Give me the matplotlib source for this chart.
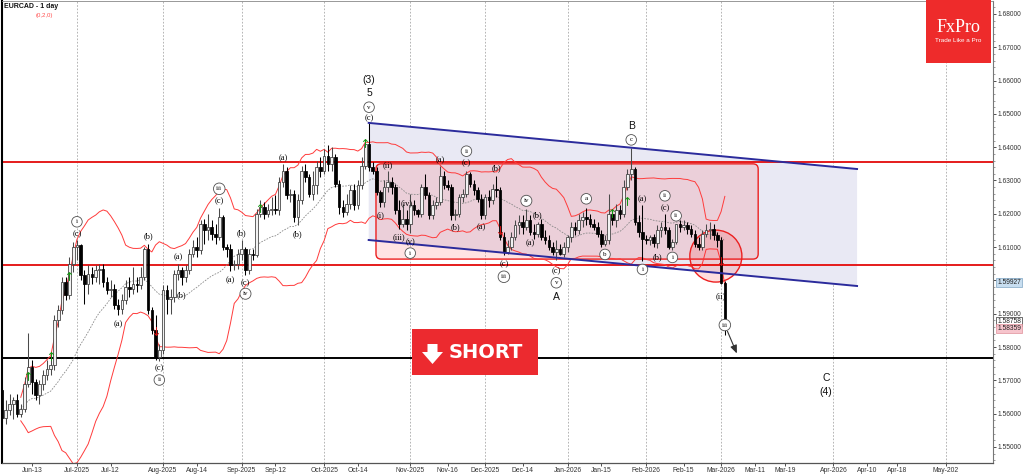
import numpy as np
import pandas as pd
import matplotlib
matplotlib.use("Agg")
import matplotlib.pyplot as plt
import matplotlib.transforms as mtransforms
from matplotlib.patches import Polygon, Ellipse, FancyBboxPatch, Rectangle
from matplotlib.ticker import MultipleLocator, FormatStrFormatter

plt.rcParams["font.family"] = ["Liberation Sans", "DejaVu Sans"]

# ---------------- data (EURCAD daily) ----------------
opens = [
    1.5672, 1.5587, 1.5610, 1.5630, 1.5640, 1.5600, 1.5615, 1.5690, 1.5740, 1.5695,
    1.5655, 1.5690, 1.5715, 1.5735, 1.5745, 1.5880, 1.5910, 1.5995, 1.5955, 1.6050,
    1.6100, 1.6105, 1.6017, 1.5990, 1.6020, 1.6010, 1.6030, 1.6035, 1.5995, 1.5970,
    1.5975, 1.5925, 1.5915, 1.5940, 1.5980, 1.5975, 1.5990, 1.5985, 1.6010, 1.6095,
    1.5910, 1.5850, 1.5770, 1.5790, 1.5970, 1.5945, 1.5950, 1.6020, 1.6030, 1.6010,
    1.6030, 1.6080, 1.6100, 1.6090, 1.6170, 1.6150, 1.6160, 1.6140, 1.6130, 1.6190,
    1.6100, 1.6095, 1.6045, 1.6050, 1.6080, 1.6095, 1.6030, 1.6080, 1.6075, 1.6200,
    1.6220, 1.6200, 1.6210, 1.6215, 1.6210, 1.6295, 1.6330, 1.6255, 1.6260, 1.6190,
    1.6240, 1.6330, 1.6310, 1.6260, 1.6285, 1.6340, 1.6330, 1.6375, 1.6350, 1.6370,
    1.6290, 1.6220, 1.6205, 1.6230, 1.6270, 1.6225, 1.6285, 1.6345, 1.6410, 1.6340,
    1.6330, 1.6265, 1.6235, 1.6280, 1.6295, 1.6280, 1.6210, 1.6170, 1.6185, 1.6170,
    1.6225, 1.6210, 1.6200, 1.6280, 1.6255, 1.6195, 1.6225, 1.6235, 1.6315, 1.6285,
    1.6280, 1.6195, 1.6200, 1.6250, 1.6260, 1.6320, 1.6290, 1.6270, 1.6245, 1.6195,
    1.6250, 1.6240, 1.6275, 1.6270, 1.6130, 1.6085, 1.6100, 1.6130, 1.6165, 1.6175,
    1.6160, 1.6180, 1.6145, 1.6140, 1.6170, 1.6130, 1.6120, 1.6100, 1.6085, 1.6095,
    1.6080, 1.6100, 1.6130, 1.6160, 1.6150, 1.6180, 1.6190, 1.6185, 1.6170, 1.6160,
    1.6140, 1.6110, 1.6120, 1.6200, 1.6180, 1.6210, 1.6200, 1.6280, 1.6320, 1.6335,
    1.6175, 1.6145, 1.6125, 1.6120, 1.6130, 1.6112, 1.6150, 1.6160, 1.6150, 1.6100,
    1.6115, 1.6170, 1.6160, 1.6165, 1.6155, 1.6140, 1.6110, 1.6100, 1.6140, 1.6150,
    1.6155, 1.6135, 1.6120, 1.5993,
]
highs = [
    1.5680, 1.5640, 1.5660, 1.5650, 1.5660, 1.5630, 1.5710, 1.5842, 1.5760, 1.5705,
    1.5700, 1.5730, 1.5760, 1.5780, 1.5895, 1.5925, 1.6010, 1.6010, 1.6070, 1.6115,
    1.6122, 1.6110, 1.6030, 1.6045, 1.6040, 1.6045, 1.6050, 1.6050, 1.6010, 1.6000,
    1.5990, 1.5945, 1.5960, 1.6000, 1.6010, 1.6040, 1.6010, 1.6040, 1.6100, 1.6108,
    1.5920, 1.5895, 1.5810, 1.5985, 1.5985, 1.5975, 1.6030, 1.6050, 1.6040, 1.6045,
    1.6095, 1.6120, 1.6130, 1.6180, 1.6185, 1.6200, 1.6180, 1.6170, 1.6218, 1.6195,
    1.6110, 1.6110, 1.6060, 1.6095, 1.6122, 1.6100, 1.6095, 1.6095, 1.6215, 1.6240,
    1.6235, 1.6230, 1.6250, 1.6255, 1.6310, 1.6350, 1.6340, 1.6275, 1.6270, 1.6260,
    1.6345, 1.6350, 1.6320, 1.6330, 1.6360, 1.6370, 1.6395, 1.6407, 1.6400, 1.6380,
    1.6300, 1.6240, 1.6260, 1.6285, 1.6290, 1.6300, 1.6370, 1.6425, 1.6472, 1.6355,
    1.6340, 1.6270, 1.6300, 1.6330, 1.6310, 1.6290, 1.6240, 1.6230, 1.6210, 1.6260,
    1.6240, 1.6215, 1.6290, 1.6320, 1.6265, 1.6240, 1.6250, 1.6345, 1.6330, 1.6300,
    1.6290, 1.6215, 1.6260, 1.6275, 1.6328, 1.6325, 1.6300, 1.6280, 1.6260, 1.6260,
    1.6270, 1.6290, 1.6315, 1.6280, 1.6145, 1.6120, 1.6145, 1.6180, 1.6195, 1.6195,
    1.6215, 1.6195, 1.6170, 1.6175, 1.6185, 1.6150, 1.6135, 1.6115, 1.6120, 1.6110,
    1.6115, 1.6135, 1.6175, 1.6175, 1.6200, 1.6205, 1.6218, 1.6200, 1.6185, 1.6175,
    1.6150, 1.6135, 1.6260, 1.6215, 1.6230, 1.6225, 1.6300, 1.6335, 1.6398, 1.6340,
    1.6195, 1.6225, 1.6135, 1.6135, 1.6140, 1.6165, 1.6175, 1.6200, 1.6160, 1.6125,
    1.6170, 1.6180, 1.6180, 1.6175, 1.6165, 1.6150, 1.6130, 1.6150, 1.6170, 1.6175,
    1.6170, 1.6145, 1.6130, 1.5997,
]
lows = [
    1.5575, 1.5570, 1.5595, 1.5585, 1.5590, 1.5590, 1.5605, 1.5680, 1.5660, 1.5640,
    1.5630, 1.5670, 1.5700, 1.5715, 1.5730, 1.5860, 1.5900, 1.5940, 1.5945, 1.6025,
    1.6060, 1.6000, 1.5930, 1.5960, 1.5990, 1.5995, 1.5990, 1.5980, 1.5960, 1.5950,
    1.5915, 1.5897, 1.5900, 1.5930, 1.5950, 1.5960, 1.5965, 1.5975, 1.6000, 1.5900,
    1.5840, 1.5760, 1.5758, 1.5780, 1.5900, 1.5900, 1.5935, 1.6000, 1.5985, 1.5995,
    1.6020, 1.6070, 1.6070, 1.6080, 1.6110, 1.6120, 1.6120, 1.6110, 1.6120, 1.6090,
    1.6070, 1.6027, 1.6030, 1.6035, 1.6060, 1.6017, 1.6020, 1.6060, 1.6070, 1.6190,
    1.6185, 1.6190, 1.6195, 1.6200, 1.6195, 1.6280, 1.6245, 1.6235, 1.6175, 1.6165,
    1.6230, 1.6295, 1.6250, 1.6240, 1.6260, 1.6310, 1.6320, 1.6330, 1.6330, 1.6280,
    1.6200, 1.6190, 1.6195, 1.6215, 1.6210, 1.6215, 1.6275, 1.6335, 1.6330, 1.6320,
    1.6255, 1.6220, 1.6220, 1.6265, 1.6260, 1.6200, 1.6155, 1.6160, 1.6150, 1.6142,
    1.6195, 1.6190, 1.6190, 1.6245, 1.6185, 1.6185, 1.6215, 1.6225, 1.6275, 1.6270,
    1.6180, 1.6180, 1.6190, 1.6235, 1.6250, 1.6280, 1.6255, 1.6235, 1.6185, 1.6185,
    1.6220, 1.6230, 1.6250, 1.6120, 1.6077, 1.6078, 1.6090, 1.6120, 1.6140, 1.6140,
    1.6150, 1.6135, 1.6125, 1.6130, 1.6120, 1.6110, 1.6090, 1.6075, 1.6062, 1.6075,
    1.6070, 1.6085, 1.6115, 1.6135, 1.6140, 1.6160, 1.6165, 1.6160, 1.6150, 1.6130,
    1.6100, 1.6102, 1.6110, 1.6165, 1.6160, 1.6185, 1.6190, 1.6270, 1.6300, 1.6165,
    1.6130, 1.6057, 1.6110, 1.6105, 1.6100, 1.6097, 1.6130, 1.6140, 1.6095, 1.6090,
    1.6110, 1.6145, 1.6150, 1.6140, 1.6130, 1.6100, 1.6090, 1.6090, 1.6130, 1.6125,
    1.6120, 1.6100, 1.5990, 1.5836,
]
closes = [
    1.5587, 1.5610, 1.5630, 1.5640, 1.5600, 1.5615, 1.5690, 1.5740, 1.5695, 1.5655,
    1.5690, 1.5715, 1.5735, 1.5745, 1.5880, 1.5910, 1.5995, 1.5955, 1.6050, 1.6100,
    1.6105, 1.6017, 1.5990, 1.6020, 1.6010, 1.6030, 1.6035, 1.5995, 1.5970, 1.5975,
    1.5925, 1.5915, 1.5940, 1.5980, 1.5975, 1.5990, 1.5985, 1.6010, 1.6095, 1.5910,
    1.5850, 1.5770, 1.5790, 1.5970, 1.5945, 1.5950, 1.6020, 1.6030, 1.6010, 1.6030,
    1.6080, 1.6100, 1.6090, 1.6170, 1.6150, 1.6160, 1.6140, 1.6130, 1.6190, 1.6100,
    1.6095, 1.6045, 1.6050, 1.6080, 1.6095, 1.6030, 1.6080, 1.6075, 1.6200, 1.6220,
    1.6200, 1.6210, 1.6215, 1.6210, 1.6295, 1.6330, 1.6255, 1.6260, 1.6190, 1.6240,
    1.6330, 1.6310, 1.6260, 1.6285, 1.6340, 1.6330, 1.6375, 1.6350, 1.6370, 1.6290,
    1.6220, 1.6205, 1.6230, 1.6270, 1.6225, 1.6285, 1.6345, 1.6410, 1.6340, 1.6330,
    1.6265, 1.6235, 1.6280, 1.6295, 1.6280, 1.6210, 1.6170, 1.6185, 1.6170, 1.6225,
    1.6210, 1.6200, 1.6280, 1.6255, 1.6195, 1.6225, 1.6235, 1.6315, 1.6285, 1.6280,
    1.6195, 1.6200, 1.6250, 1.6260, 1.6320, 1.6290, 1.6270, 1.6245, 1.6195, 1.6250,
    1.6240, 1.6275, 1.6270, 1.6130, 1.6085, 1.6100, 1.6130, 1.6165, 1.6175, 1.6160,
    1.6180, 1.6145, 1.6140, 1.6170, 1.6130, 1.6120, 1.6100, 1.6085, 1.6095, 1.6080,
    1.6100, 1.6130, 1.6160, 1.6150, 1.6180, 1.6190, 1.6185, 1.6170, 1.6160, 1.6140,
    1.6110, 1.6120, 1.6200, 1.6180, 1.6210, 1.6200, 1.6280, 1.6320, 1.6335, 1.6175,
    1.6145, 1.6125, 1.6120, 1.6130, 1.6112, 1.6150, 1.6160, 1.6150, 1.6100, 1.6115,
    1.6170, 1.6160, 1.6165, 1.6155, 1.6140, 1.6110, 1.6100, 1.6140, 1.6150, 1.6155,
    1.6135, 1.6120, 1.5993, 1.5876,
]

buy_idx = [7, 13, 18, 69, 97, 163, 167]
buy_price = [1.5712, 1.5772, 1.6012, 1.6217, 1.6412, 1.6202, 1.6237]
sell_idx = [41, 133, 192]
sell_price = [1.5847, 1.6152, 1.6057]

red_levels = [1.6357, 1.6045]
black_level = 1.5767

tick_labels = ["Jun-13", "Jul-2025", "Jul-12", "Aug-2025", "Aug-14", "Sep-2025", "Sep-12",
               "Oct-2025", "Oct-14", "Nov-2025", "Nov-16", "Dec-2025", "Dec-14", "Jan-2026",
               "Jan-15", "Feb-2026", "Feb-15", "Mar-2026", "Mar-11", "Mar-19", "Apr-2026",
               "Apr-10", "Apr-18", "May-202"]
tick_dates = ["2025-06-13", "2025-07-01", "2025-07-12", "2025-08-01", "2025-08-14",
              "2025-09-01", "2025-09-12", "2025-10-01", "2025-10-14", "2025-11-01",
              "2025-11-16", "2025-12-01", "2025-12-14", "2026-01-01", "2026-01-15",
              "2026-02-01", "2026-02-15", "2026-03-01", "2026-03-11", "2026-03-19",
              "2026-04-01", "2026-04-10", "2026-04-18", "2026-05-01"]
month_dates = ["2025-07-01", "2025-08-01", "2025-09-01", "2025-10-01", "2025-11-01",
               "2025-12-01", "2026-01-01", "2026-02-01", "2026-03-01", "2026-04-01",
               "2026-05-01"]

price_tags = ["1.59927", "1.58758", "1.58359"]

# wave count: (bar, text, above/below, distance px, kind)
wave_labels = [
    (20, "(c)", "up", 6, "p"), (20, "i", "up", 18, "c"),
    (31, "(a)", "dn", 9, "p"),
    (39, "(b)", "up", 8, "p"),
    (42, "(c)", "dn", 7, "p"), (42, "ii", "dn", 19, "c"),
    (47, "(a)", "up", 7, "p"),
    (48, "(b)", "dn", 10, "p"),
    (58, "(c)", "up", 7, "p"), (58, "iii", "up", 19, "c"),
    (61, "(a)", "dn", 9, "p"),
    (64, "(b)", "up", 7, "p"),
    (65, "(c)", "dn", 8, "p"), (65, "iv", "dn", 19, "c"),
    (75, "(a)", "up", 6, "p"),
    (79, "(b)", "dn", 9, "p"),
    (98, "(c)", "up", 5, "p"), (98, "v", "up", 16, "c"),
    (98, "5", "up", 30, "b"), (98, "(3)", "up", 43, "b"),
    (101, "(i)", "dn", 8, "p"),
    (103, "(ii)", "up", 5, "p"),
    (106, "(iii)", "dn", 8, "p"),
    (108, "(iv)", "up", 7, "p"),
    (109, "(v)", "dn", 9, "p"), (109, "i", "dn", 20, "c"),
    (117, "(a)", "up", 5, "p"),
    (121, "(b)", "dn", 7, "p"),
    (124, "(c)", "up", 8, "p"), (124, "ii", "up", 20, "c"),
    (128, "(a)", "dn", 8, "p"),
    (132, "(b)", "up", 7, "p"),
    (134, "(c)", "dn", 9, "p"), (134, "iii", "dn", 22, "c"),
    (140, "iv", "up", 8, "c"),
    (141, "(a)", "dn", 8, "p"),
    (143, "(b)", "up", 7, "p"),
    (148, "(c)", "dn", 11, "p"), (148, "v", "dn", 23, "c"), (148, "A", "dn", 37, "b"),
    (156, "a", "up", 9, "c"),
    (161, "b", "dn", 8, "c"),
    (168, "c", "up", 8, "c"), (168, "B", "up", 22, "b"),
    (171, "(a)", "up", 6, "p"), (171, "i", "dn", 8, "c"),
    (175, "(b)", "dn", 9, "p"),
    (177, "(c)", "up", 6, "p"), (177, "ii", "up", 18, "c"),
    (179, "i", "dn", 7, "c"),
    (180, "ii", "up", 8, "c"),
    (192, "(ii)", "dn", 12, "p"),
    (193, "iii", "dn", -10, "c"),
]

# ---------------- x positions ----------------
dates = pd.bdate_range("2025-06-03", "2026-03-03")
dates = dates[~dates.isin(pd.to_datetime(["2025-12-25", "2026-01-01"]))]
n = len(dates)
assert len(opens) == len(highs) == len(lows) == len(closes) == n
xs = np.arange(n)


def date_x(s):
    # trading days in the past, calendar days after the last bar (as MT4 does)
    d = pd.Timestamp(s)
    if d <= dates[-1]:
        return float(dates.searchsorted(d))
    return float(n - 1 + (d - dates[-1]).days)


W, H = 1024, 474
fig = plt.figure(figsize=(W / 100, H / 100), dpi=100)
ax = fig.add_axes([2 / W, 11 / H, 991 / W, 462 / H])
ax.set_xlim(-0.01, 264.6)
ax.set_ylim(1.54517, 1.6839)

# month grid
for d in month_dates:
    ax.axvline(date_x(d), color="#a8a8a8", lw=0.6, ls=(0, (2, 2)), zorder=0.5)

# descending channel
ch_x = [97.9, 228.3]
ch_up = [1.6473, 1.63345]
ch_lo = [1.61213, 1.59832]
ax.add_patch(Polygon([[ch_x[0], ch_up[0]], [ch_x[1], ch_up[1]], [ch_x[1], ch_lo[1]], [ch_x[0], ch_lo[0]]],
                     closed=True, fc="#e9e9f4", ec="none", zorder=1))

# range box
box = FancyBboxPatch((99.85, 1.6064), 102.05, 0.0286, boxstyle="round,pad=0,rounding_size=1.4",
                     mutation_aspect=3.745 / 3330, fc=(1, 0, 0, 0.11), ec="#ec2020", lw=1.0, zorder=1.5)
ax.add_patch(box)

# breakout circle
ax.add_patch(Ellipse((190.6, 1.6073), 13.9, 0.0156, fc=(1, 0, 0, 0.13), ec="#ec2020", lw=1.0, zorder=2.6))

for lv in red_levels:
    ax.axhline(lv, color="#e51b1b", lw=1.4, zorder=2)
ax.axhline(black_level, color="black", lw=1.4, zorder=2)

# Bollinger bands (20, 2)
cs = pd.Series(closes)
mid = cs.rolling(20, min_periods=6).mean()
sd = cs.rolling(20, min_periods=6).std(ddof=0)
ax.plot(xs, mid + 2 * sd, color="#ff3b3b", lw=0.7, zorder=2.5)
ax.plot(xs, mid - 2 * sd, color="#ff3b3b", lw=0.7, zorder=2.5)
ax.plot(xs, mid, color="#8a8a8a", lw=0.6, ls=(0, (2, 1.5)), zorder=2.5)

# candles
o = np.array(opens)
h = np.array(highs)
l = np.array(lows)
c = np.array(closes)
bull = c >= o
body = np.maximum(np.abs(c - o), 0.00012)
bottom = np.minimum(o, c)
ax.vlines(xs[bull], l[bull], h[bull], color="#4a4a4a", lw=0.75, zorder=3)
ax.vlines(xs[~bull], l[~bull], h[~bull], color="black", lw=0.75, zorder=3)
ax.bar(xs[bull], body[bull], width=0.7, bottom=bottom[bull], color="#f2f2f2",
       edgecolor="#3a3a3a", linewidth=0.55, zorder=3.2)
ax.bar(xs[~bull], body[~bull], width=0.7, bottom=bottom[~bull], color="black",
       edgecolor="black", linewidth=0.55, zorder=3.2)

# channel edges
ax.plot(ch_x, ch_up, color="#2b2b9c", lw=1.4, zorder=4)
ax.plot(ch_x, ch_lo, color="#2b2b9c", lw=1.4, zorder=4)

# signal arrows
ax.scatter(buy_idx, buy_price, marker=r"$\uparrow$", s=40, color="#139613", zorder=5, linewidths=0)
ax.scatter(sell_idx, sell_price, marker=r"$\downarrow$", s=40, color="#d01010", zorder=5, linewidths=0)


def wave_label(i, text, side, dist, kind):
    base = highs[i] if side == "up" else lows[i]
    dy = dist if side == "up" else -dist
    kw = dict(xy=(i, base), xytext=(0, dy * 0.72), textcoords="offset points",
              ha="center", va="center", zorder=6, annotation_clip=False)
    if kind == "p":
        ax.annotate(text, fontsize=6, family="Liberation Serif", **kw)
    elif kind == "c":
        ax.annotate(text, fontsize=5, family="Liberation Serif",
                    bbox=dict(boxstyle="circle,pad=0.4", fc="white", ec="#505050", lw=0.6), **kw)
    else:
        ax.annotate(text, fontsize=7.5, color="#111111", **kw)


for lab in wave_labels:
    wave_label(*lab)

# projected path and target
ax.annotate("", xy=(196.5, 1.5773), xytext=(193.4, 1.5855),
            arrowprops=dict(arrowstyle="-|>,head_length=0.6,head_width=0.25", color="#333333",
                            lw=0.8, mutation_scale=8), zorder=6)
ax.text(220, 1.5707, "C", fontsize=7.5, ha="center", va="center", color="#111111")
ax.text(220, 1.5665, "(4)", fontsize=7.5, ha="center", va="center", color="#111111")

# axes styling
ax.yaxis.tick_right()
ax.set_yticks(np.round(np.arange(1.55, 1.6801, 0.01), 2))
ax.yaxis.set_major_formatter(FormatStrFormatter("%.5f"))
ax.yaxis.set_minor_locator(MultipleLocator(0.002))
ax.tick_params(axis="y", which="major", length=2.5, width=0.6, pad=1, labelsize=4.8, colors="#333333")
ax.tick_params(axis="y", which="minor", length=1.5, width=0.4, colors="#555555")
ax.set_xticks([date_x(d) for d in tick_dates])
ax.set_xticklabels(tick_labels)
ax.tick_params(axis="x", length=2.5, width=0.6, pad=0.6, labelsize=4.9, colors="#333333")
ax.spines["left"].set_color("black")
ax.spines["left"].set_linewidth(1.5)
ax.spines["bottom"].set_color("#555555")
ax.spines["bottom"].set_linewidth(0.9)
ax.spines["right"].set_color("#777777")
ax.spines["right"].set_linewidth(0.8)
ax.spines["top"].set_color("#888888")
ax.spines["top"].set_linewidth(0.6)

# price tags on the right scale
tag_style = [("#c8def0", "#7fa6c4", 0), ("white", "#333333", 0), ("#f6c4cc", "#e0909a", 7)]
trans = mtransforms.blended_transform_factory(ax.transAxes, ax.transData)
for t, (fc, ec, off) in zip(price_tags, tag_style):
    ax.annotate(t, xy=(1.0, float(t)), xycoords=trans, xytext=(3.0, off * 0.72),
                textcoords="offset points", ha="left", va="center", fontsize=4.8, color="#222222",
                bbox=dict(boxstyle="square,pad=0.15", fc=fc, ec=ec, lw=0.5),
                annotation_clip=False, zorder=7)


def fx(px):
    return px / W


def fy(py):
    return 1 - py / H


# title
fig.text(fx(4), fy(6.5), "EURCAD - 1 day", fontsize=5, fontweight="bold", color="#111111",
         ha="left", va="center")
fig.text(fx(36), fy(15.5), "(0,2,0)", fontsize=4.3, color="#ff4d4d", ha="left", va="center")

# SHORT badge
fig.add_artist(Rectangle((fx(412), fy(375)), 126 / W, 46 / H, transform=fig.transFigure,
                         fc="#ec2a2f", ec="none", zorder=10))
arrow_pts = [(422, 352), (427.5, 352), (427.5, 344), (437.5, 344), (437.5, 352), (443, 352), (432.5, 364)]
fig.add_artist(Polygon([(fx(a), fy(b)) for a, b in arrow_pts], closed=True, transform=fig.transFigure,
                       fc="white", ec="none", zorder=11))
fig.text(fx(485.5), fy(352), "SHORT", color="white", fontsize=14, fontweight="bold",
         family="DejaVu Sans", ha="center", va="center", zorder=11)

# FxPro logo
fig.add_artist(Rectangle((fx(926), fy(63)), 65 / W, 63 / H, transform=fig.transFigure,
                         fc="#ee2b2b", ec="none", zorder=10))
fig.text(fx(958.5), fy(28), "FxPro", family="Liberation Serif", fontsize=13, color="white",
         ha="center", va="center", zorder=11)
fig.text(fx(958.5), fy(40.5), "Trade Like a Pro", fontsize=4.6, color="white",
         ha="center", va="center", zorder=11)

fig.savefig("out.png", dpi=100)
